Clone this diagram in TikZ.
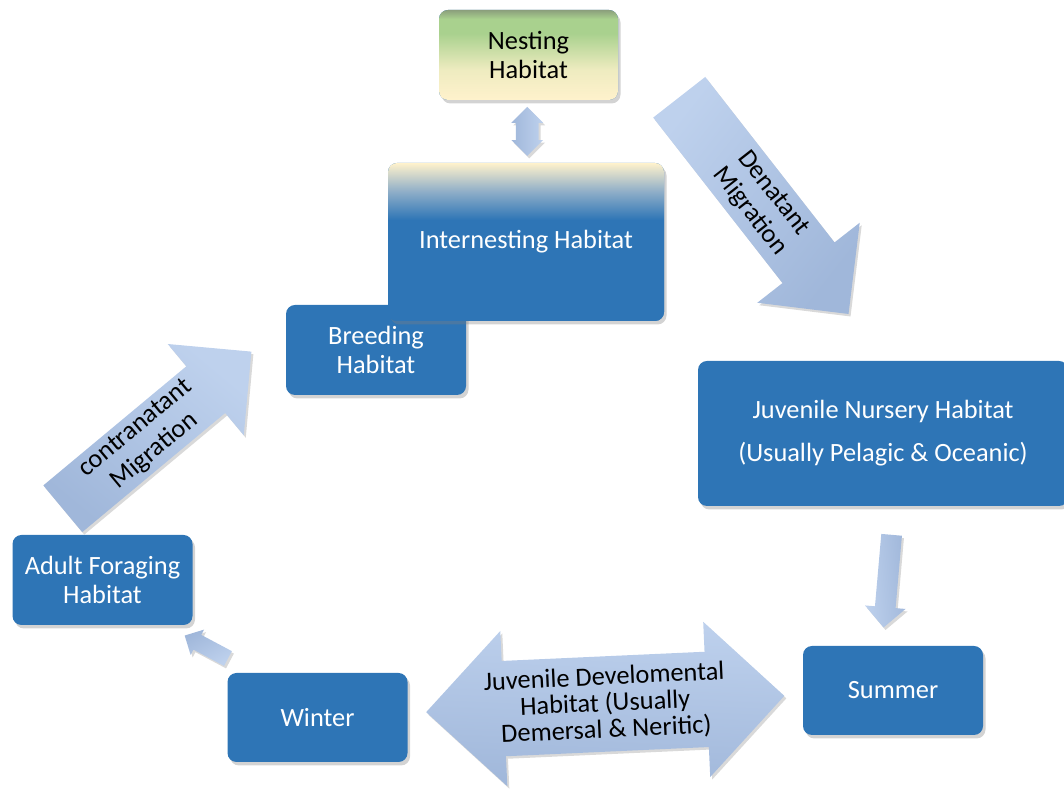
\documentclass[tikz,border=0pt]{standalone}
\usepackage{fontspec}
\setmainfont{Carlito}
\usetikzlibrary{shapes.arrows,shadows,positioning,calc}

\definecolor{boxblue}{HTML}{2E75B6}
\definecolor{cream}{HTML}{FFF2CC}
\definecolor{leaf}{HTML}{A9D18E}
\definecolor{moss}{HTML}{8B9F7C}
\definecolor{haze}{HTML}{8FAEC8}
\definecolor{arrowhi}{HTML}{BED1ED}
\definecolor{arrowlo}{HTML}{A0B7DA}

\pgfdeclareverticalshading{nestshade}{100bp}{color(0bp)=(cream); color(25bp)=(cream); color(42bp)=(cream!80!leaf); color(62bp)=(leaf); color(70bp)=(leaf); color(75bp)=(moss); color(100bp)=(moss)}
\pgfdeclareverticalshading{internshade}{100bp}{color(0bp)=(boxblue); color(57bp)=(boxblue); color(66bp)=(haze); color(75bp)=(cream); color(100bp)=(cream)}

\tikzset{
  habitat/.style={rectangle, rounded corners=0.18cm, fill=boxblue, text=white,
    align=center, minimum width=3.6cm, minimum height=1.8cm,
    font=\fontsize{15}{17}\selectfont,
    drop shadow={opacity=0.35, shadow xshift=0.05cm, shadow yshift=-0.07cm}},
  flowbase/.style={top color=arrowhi, bottom color=arrowlo, inner xsep=0pt,
    align=center, text=black, font=\fontsize{15}{17}\selectfont,
    drop shadow={opacity=0.3, shadow xshift=0.04cm, shadow yshift=-0.05cm}},
  flow/.style={flowbase, single arrow},
  twoflow/.style={flowbase, double arrow}
}

\begin{document}
\begin{tikzpicture}

    \useasboundingbox (0,0) rectangle (21.28,15.8);
    \clip (0,0) rectangle (21.28,15.8);

    % habitats
    \node[habitat] (breed) at (7.52,8.8) {Breeding\\Habitat};

    \node[habitat, shade, shading=internshade,
    minimum width=5.52cm,
    minimum height=3.16cm] (intern) at (10.52,10.96) {Internesting Habitat};

    \node[habitat, text=black, shade, shading=nestshade,
    minimum width=3.58cm] (nest) at (10.57,14.7) {Nesting\\Habitat};

    \node[habitat,
    minimum width=7.4cm,
    minimum height=2.9cm,
    font=\fontsize{15}{24.5}\selectfont] (nursery) at (17.66,7.13)
      {Juvenile Nursery Habitat\\(Usually Pelagic \& Oceanic)};

    \node[habitat, minimum height=1.78cm] (summer) at (17.86,1.99) {Summer};

    \node[habitat, minimum height=1.78cm] (winter) at (6.35,1.45) {Winter};

    \node[habitat] (adult) at (2.05,4.2) {Adult Foraging\\Habitat};

    % migrations
    \node[twoflow, rotate=90, shading angle=-90,
    minimum height=0.98cm,
    inner ysep=0.22cm,
    double arrow head extend=0.09cm] (nestlink) at ($(nest.south)!0.5!(intern.north)$) {};

    \node[flow, rotate=-52, shading angle=52, anchor=tail,
    minimum height=5.5cm,
    inner ysep=0.14cm,
    single arrow head extend=0.64cm] (denatant) at (13.58,13.86)
      {\hspace*{0.5cm}Denatant\\\hspace*{0.5cm}Migration};

    \node[flow, rotate=-95, shading angle=95,
    minimum height=1.86cm,
    inner ysep=0.2cm,
    single arrow head extend=0.2cm] (tosummer) at ($(nursery.south)!0.5!(summer.north)$) {};

    \node[twoflow, rotate=2.6, shading angle=-2.6,
    minimum height=7.17cm,
    inner ysep=0.2cm,
    double arrow head extend=0.6cm,
    font=\fontsize{15}{15}\selectfont] (develop) at ($(winter.east)!0.5!(summer.west)$)
      {Juvenile Develomental\\Habitat (Usually\\Demersal \& Neritic)};

    \node[flow, rotate=152, shading angle=-152,
    minimum height=0.98cm,
    inner ysep=0.16cm,
    single arrow head extend=0.12cm] (toadult) at ($(adult.south east)!0.5!(winter.north west)$) {};

    \node[flow, rotate=39.8, shading angle=-39.8, anchor=tail,
    minimum height=4.91cm,
    inner ysep=0.09cm,
    single arrow head extend=0.58cm] (contra) at (1.25,5.62) {contranatant\\Migration};

\end{tikzpicture}
\end{document}
